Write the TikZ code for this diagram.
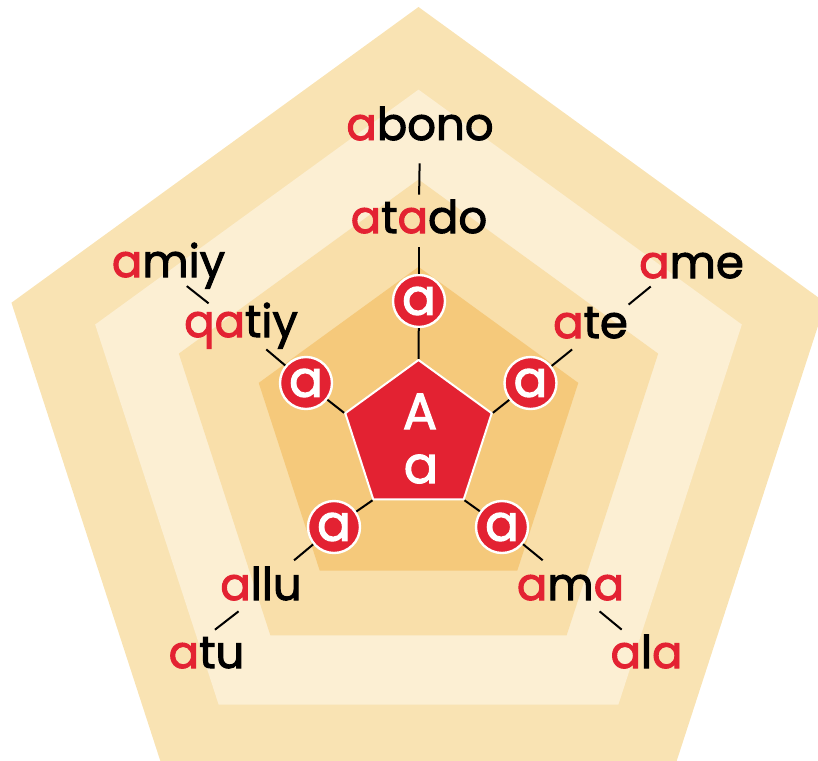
\documentclass[tikz,border=0pt]{standalone}
\usepackage{fontspec}
\setmainfont{Poppins}[FakeBold=2.2]
\usetikzlibrary{shapes.geometric}

\definecolor{bandaussen}{HTML}{F9E3B3}
\definecolor{bandhell}{HTML}{FCEFD3}
\definecolor{bandmitte}{HTML}{F9DFAA}
\definecolor{bandinnen}{HTML}{F5C97B}
\definecolor{buchrot}{HTML}{E32232}
\newcommand{\rt}[1]{\textcolor{buchrot}{#1}}

\begin{document}
\begin{tikzpicture}[x=0.5pt,y=-0.5pt,
    wort/.style={inner sep=0pt,text height=16pt,text depth=0pt,anchor=base,
      font=\fontsize{22.5}{26}\selectfont},
    kreis/.style={circle,fill=buchrot,draw=white,line width=1.2pt,minimum size=26pt,
      inner sep=0pt,text=white,font=\fontsize{25}{28}\selectfont},
    mitte/.style={inner sep=0pt,anchor=base,text=white,
      font=\fontsize{25.5}{28}\selectfont},
    linie/.style={line width=1pt}]
  \useasboundingbox (0,0) rectangle (818,760);

  % Hintergrund-Fuenfecke
  \begin{scope}
    \clip (0,0) rectangle (818,760);
    \foreach \r/\cy/\farbe in {428/435/bandaussen,340/429.6/bandhell,252/431.5/bandmitte,168/434.8/bandinnen}
      \fill[\farbe,shift={(418.5,\cy)}] (270:\r) -- (342:\r) -- (54:\r) -- (126:\r) -- (198:\r) -- cycle;
  \end{scope}

  % Mitte
  \node[regular polygon,regular polygon sides=5,minimum size=77pt,inner sep=0pt,
    fill=buchrot,draw=white,line width=1pt] (P) at (418.5,437) {};
  \node[mitte] (grossA) at (420,429) {A};
  \node[mitte] (kleinA) at (421,483) {a};

  % Kreise
  \node[kreis] (c1) at (419,301) {a};
  \node[kreis] (c2) at (306,383) {a};
  \node[kreis] (c3) at (530.5,383) {a};
  \node[kreis] (c4) at (334,527) {a};
  \node[kreis] (c5) at (502,527) {a};

  % Woerter
  \node[wort] (abono) at (420,140) {\rt{a}bono};
  \node[wort] (atado) at (419,233) {\rt{a}t\rt{a}do};
  \node[wort] (amiy) at (168.5,277) {\rt{a}miy};
  \node[wort] (qatiy) at (241,337) {\rt{qa}tiy};
  \node[wort] (ame) at (691.5,278) {\rt{a}me};
  \node[wort] (ate) at (590.5,338) {\rt{a}te};
  \node[wort] (allu) at (261,600) {\rt{a}llu};
  \node[wort] (atu) at (206.5,668) {\rt{a}tu};
  \node[wort] (ama) at (570.5,600) {\rt{a}m\rt{a}};
  \node[wort] (ala) at (646.5,668) {\rt{a}l\rt{a}};

  % Verbindungen
  \draw[linie,shorten <=11.5pt,shorten >=3pt] (abono.south) -- (atado.north);
  \draw[linie,shorten <=7pt] (atado.south) -- (c1);
  \draw[linie] (c1) -- (P.corner 1);
  \draw[linie,shorten <=7pt,shorten >=1pt] (amiy.-66) -- (qatiy.152);
  \draw[linie,shorten <=9.3pt] (qatiy.-56) -- (c2);
  \draw[linie] (c2) -- (P.corner 2);
  \draw[linie,shorten <=6.4pt,shorten >=0.8pt] (ame.-152) -- (ate.24);
  \draw[linie,shorten <=8.8pt] (ate.-106) -- (c3);
  \draw[linie] (c3) -- (P.corner 5);
  \draw[linie,shorten >=5.7pt] (c4) -- (allu.34);
  \draw[linie,shorten <=8.9pt,shorten >=4.8pt] (allu.-117) -- (atu.87);
  \draw[linie] (c4) -- (P.corner 3);
  \draw[linie,shorten >=5.8pt] (c5) -- (ama.139);
  \draw[linie,shorten <=8.6pt,shorten >=4.7pt] (ama.-46) -- (ala.137);
  \draw[linie] (c5) -- (P.corner 4);
\end{tikzpicture}
\end{document}
